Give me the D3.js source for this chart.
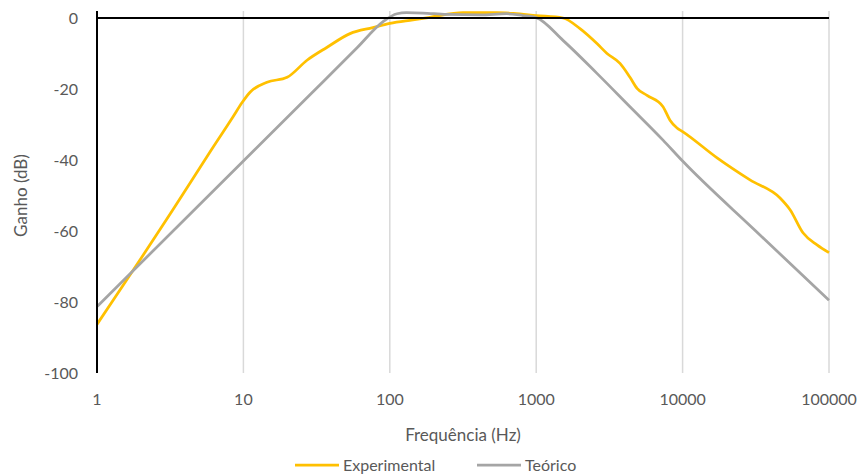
<!DOCTYPE html>
<html>
<head>
<meta charset="utf-8">
<script src="https://cdn.jsdelivr.net/npm/d3@7"></script>
<style>
  body { margin: 0; background: #fff; }
  svg text { font-family: Lato, "Open Sans", sans-serif; fill: #595959; }
</style>
</head>
<body>
<div id="chart"></div>
<script>
// Frequency response, log x axis
const expFreq = [1, 3.4, 6, 8.5, 9.8, 11.1, 14.5, 19.9, 27.2, 37.1, 53.5, 76.6, 100, 144, 188, 316, 540, 700, 1000, 1524, 1991, 2600, 3046, 3736, 4370, 4883, 5715, 7350, 8200, 9160, 10000, 17200, 28850, 46300, 54200, 66400, 82800, 100000];
const expGain = [-86.3, -53.2, -37.3, -27.8, -23.8, -20.9, -18.1, -16.7, -11.9, -8.3, -4.4, -2.7, -1.5, -0.5, 0.2, 1.5, 1.5, 1.3, 0.7, 0, -3, -7.2, -10, -12.8, -16.7, -19.8, -21.8, -25, -28.8, -31, -32, -39.4, -45.6, -50.7, -54, -60.5, -63.9, -66.1];

const teoFreq = [1, 10, 30, 60, 90, 112, 130, 168, 245, 415, 630, 810, 1000, 1524, 2600, 4370, 7350, 10000, 31600, 100000];
const teoGain = [-81.3, -40.3, -20.7, -8.3, -1.0, 1.2, 1.5, 1.4, 1.0, 0.9, 1.2, 0.7, 0.1, -6.3, -15.6, -25, -34.4, -40.3, -60, -79.5];

const xTicks = [1, 10, 100, 1000, 10000, 100000];
const yTicks = [0, -20, -40, -60, -80, -100];

const seriesNames = ["Experimental", "Teórico"];
const seriesColors = ["#FFC000", "#A5A5A5"];

const width = 865, height = 476;
const margin = { top: 18, right: 36, bottom: 103, left: 97 };
const innerW = width - margin.left - margin.right;
const innerH = height - margin.top - margin.bottom;

const svg = d3.select("#chart").append("svg")
  .attr("width", width)
  .attr("height", height);

const g = svg.append("g")
  .attr("transform", `translate(${margin.left},${margin.top})`);

const x = d3.scaleLog().domain([1, 100000]).range([0, innerW]);
const y = d3.scaleLinear().domain([-100, 0]).range([innerH, 0]);

// vertical gridlines
g.append("g")
  .selectAll("line")
  .data(xTicks.slice(1))
  .join("line")
  .attr("x1", d => x(d)).attr("x2", d => x(d))
  .attr("y1", -7).attr("y2", innerH)
  .attr("stroke", "#D9D9D9")
  .attr("stroke-width", 1.5);

// x tick labels
g.append("g")
  .selectAll("text")
  .data(xTicks)
  .join("text")
  .attr("x", d => x(d))
  .attr("y", innerH + 32)
  .attr("text-anchor", "middle")
  .attr("font-size", "16px")
  .text(d => d);

// y tick labels
g.append("g")
  .selectAll("text")
  .data(yTicks)
  .join("text")
  .attr("x", -19)
  .attr("y", d => y(d))
  .attr("dy", "0.35em")
  .attr("text-anchor", "end")
  .attr("font-size", "16px")
  .text(d => d);

// series
const series = [
  { name: seriesNames[0], color: seriesColors[0], values: expFreq.map((f, i) => [f, expGain[i]]) },
  { name: seriesNames[1], color: seriesColors[1], values: teoFreq.map((f, i) => [f, teoGain[i]]) }
];

const line = d3.line()
  .x(d => x(d[0]))
  .y(d => y(d[1]))
  .curve(d3.curveMonotoneX);

g.append("g")
  .selectAll("path")
  .data(series)
  .join("path")
  .attr("d", d => line(d.values))
  .attr("fill", "none")
  .attr("stroke", d => d.color)
  .attr("stroke-width", 2.75)
  .attr("stroke-linejoin", "round");

// zero line and y axis line
g.append("line")
  .attr("x1", 0).attr("x2", innerW)
  .attr("y1", y(0)).attr("y2", y(0))
  .attr("stroke", "#000").attr("stroke-width", 2);
g.append("line")
  .attr("x1", 0).attr("x2", 0)
  .attr("y1", -7).attr("y2", innerH)
  .attr("stroke", "#000").attr("stroke-width", 2);

// axis titles
svg.append("text")
  .attr("x", margin.left + x(Math.sqrt(10) * 100))
  .attr("y", 441)
  .attr("text-anchor", "middle")
  .attr("font-size", "17px")
  .text("Frequência (Hz)");

svg.append("text")
  .attr("transform", `translate(27,${margin.top + innerH / 2}) rotate(-90)`)
  .attr("text-anchor", "middle")
  .attr("font-size", "17px")
  .text("Ganho (dB)");

// legend
const legend = svg.append("g").attr("transform", "translate(295,465)");
const legendX = [0, 182];
const items = legend.selectAll("g")
  .data(series)
  .join("g")
  .attr("transform", (d, i) => `translate(${legendX[i]},0)`);
items.append("line")
  .attr("x1", 0).attr("x2", 44)
  .attr("stroke", d => d.color)
  .attr("stroke-width", 2.75);
items.append("text")
  .attr("x", 48)
  .attr("dy", "0.35em")
  .attr("font-size", "16px")
  .text(d => d.name);
</script>
</body>
</html>
